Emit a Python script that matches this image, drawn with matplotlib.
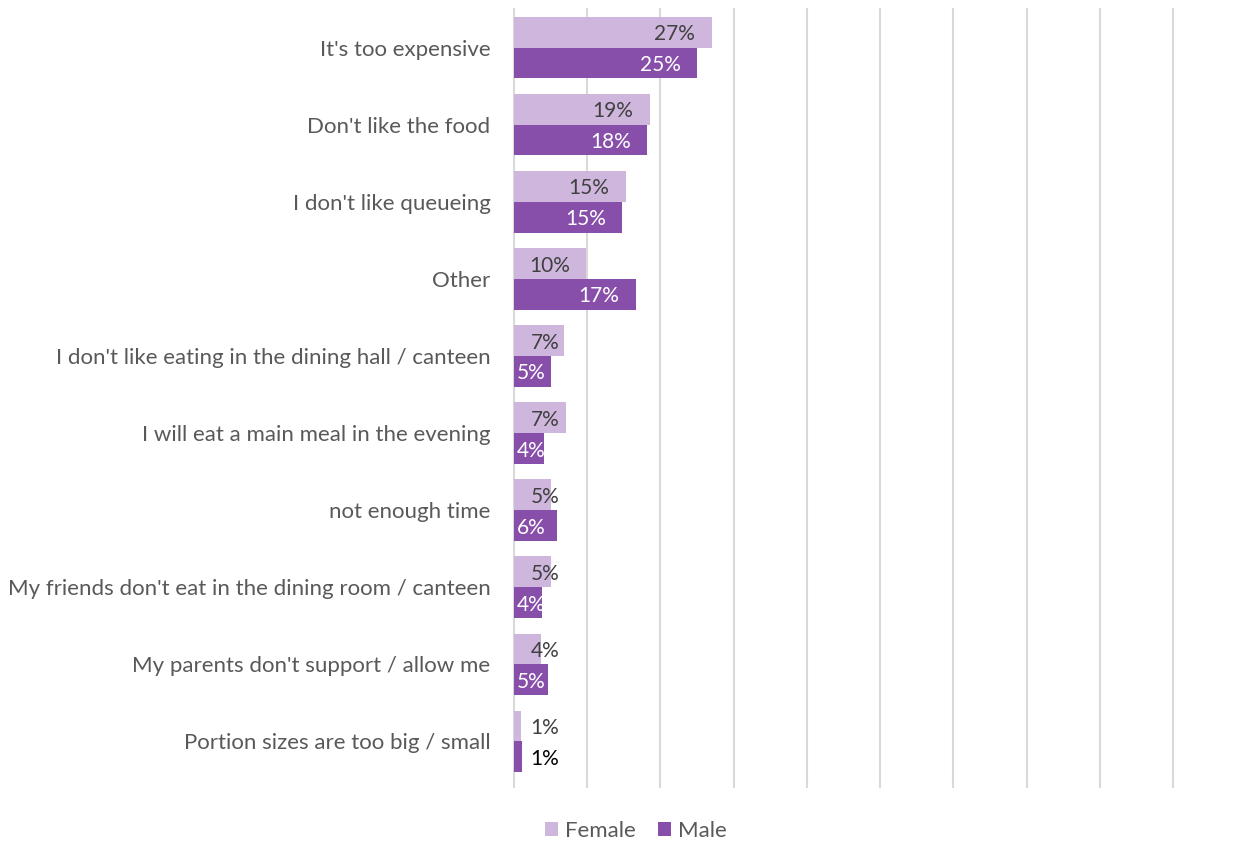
import matplotlib.pyplot as plt
import numpy as np

plt.rcParams['font.family'] = ['Lato', 'DejaVu Sans']

# donnees
categories = ["It's too expensive", "Don't like the food", "I don't like queueing", "Other",
              "I don't like eating in the dining hall / canteen",
              "I will eat a main meal in the evening", "not enough time",
              "My friends don't eat in the dining room / canteen",
              "My parents don't support / allow me", "Portion sizes are too big / small"]
female = [0.270, 0.186, 0.153, 0.099, 0.068, 0.071, 0.050, 0.050, 0.037, 0.010]
male = [0.250, 0.182, 0.148, 0.166, 0.050, 0.041, 0.059, 0.038, 0.047, 0.011]
series = ['Female', 'Male']

col_f = '#CFB6DD'
col_m = '#874FAA'
gris = '#595959'
grille = '#D9D9D9'
taille = 15

fig = plt.figure(figsize=(12.43, 8.43), dpi=100)
ax = fig.add_axes([514/1243, 1-780/843, 659/1243, 771/843])

y = np.arange(len(categories))
h = 0.4
b1 = ax.barh(y - h/2, female, h, color=col_f, label=series[0], zorder=2)
b2 = ax.barh(y + h/2, male, h, color=col_m, label=series[1], zorder=2)

ax.set_xlim(0, 0.9)
ax.set_ylim(len(categories) - 0.5, -0.5)
ax.set_xticks(np.arange(0, 0.91, 0.1))
ax.set_xticklabels([])
ax.grid(axis='x', color=grille, linewidth=1.5, zorder=0)
for gl in ax.get_xgridlines():
    gl.set_clip_on(False)
ax.tick_params(axis='x', length=6, color=grille, width=1.5)
ax.tick_params(axis='y', length=0, pad=17, labelsize=16, labelcolor=gris)
ax.set_yticks(y)
ax.set_yticklabels(categories)
for s in ax.spines.values():
    s.set_visible(False)

# etiquettes des barres
dy = -1.5
for i in range(len(categories)):
    v = female[i]
    txt = '{:.0f}%'.format(v*100)
    if v > 0.09:
        ax.annotate(txt, (v, y[i] - h/2), xytext=(-12, dy), textcoords='offset points',
                    ha='right', va='center', fontsize=taille, color='#404040', zorder=3)
    else:
        ax.annotate(txt, (0, y[i] - h/2), xytext=(12, dy), textcoords='offset points',
                    ha='left', va='center', fontsize=taille, color='#404040', zorder=3)
    v = male[i]
    txt = '{:.0f}%'.format(v*100)
    if v > 0.09:
        ax.annotate(txt, (v, y[i] + h/2), xytext=(-12, dy), textcoords='offset points',
                    ha='right', va='center', fontsize=taille, color='white', zorder=3)
    elif v > 0.02:
        ax.annotate(txt, (0, y[i] + h/2), xytext=(2, dy), textcoords='offset points',
                    ha='left', va='center', fontsize=taille, color='white', zorder=3)
    else:
        ax.annotate(txt, (0, y[i] + h/2), xytext=(12, dy), textcoords='offset points',
                    ha='left', va='center', fontsize=taille, color='black', zorder=3)

fig.legend(handles=[b1, b2], labels=series, loc='center', bbox_to_anchor=(636/1243, 1-831/843),
           ncol=2, frameon=False, fontsize=16, labelcolor=gris, handlelength=0.6,
           handleheight=0.6, handletextpad=0.3, columnspacing=1.0)

plt.savefig('out.png', dpi=100)
